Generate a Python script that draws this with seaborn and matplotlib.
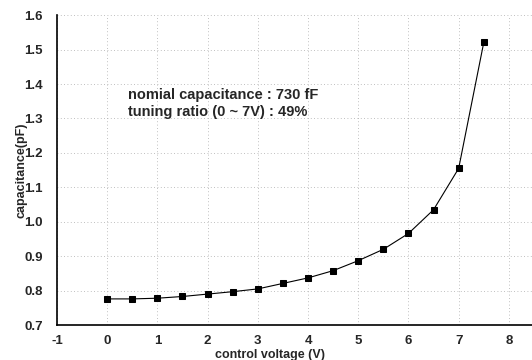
import matplotlib
matplotlib.use("Agg")
import matplotlib.pyplot as plt
from matplotlib.ticker import MultipleLocator
import seaborn as sns
import pandas as pd

voltage = [0, 0.5, 1, 1.5, 2, 2.5, 3, 3.5, 4, 4.5, 5, 5.5, 6, 6.5, 7, 7.5]
capacitance = [0.776, 0.776, 0.778, 0.783, 0.790, 0.797, 0.805, 0.821, 0.837,
               0.858, 0.887, 0.920, 0.966, 1.035, 1.155, 1.521]
y_ticks = [0.7, 0.8, 0.9, 1.0, 1.1, 1.2, 1.3, 1.4, 1.5, 1.6]
y_tick_labels = ["0.7", "0.8", "0.9", "1.0", "1.1", "1.2", "1.3", "1.4", "1.5", "1.6"]

df = pd.DataFrame({"voltage": voltage, "capacitance": capacitance})

sns.set_style("white")
plt.rcParams["font.family"] = ["Liberation Sans", "DejaVu Sans"]
plt.rcParams["font.weight"] = "bold"
plt.rcParams["axes.unicode_minus"] = False

fig = plt.figure(figsize=(5.32, 3.6), dpi=100)
ax = fig.add_axes([0.107, 0.097, 0.893, 0.861])

sns.lineplot(data=df, x="voltage", y="capacitance", ax=ax, color="black",
             linewidth=0.8, marker="s", markersize=4.5, markeredgecolor="black",
             markerfacecolor="black")

ax.set_xlim(-1, 8.46)
ax.set_ylim(0.7, 1.6)
ax.xaxis.set_major_locator(MultipleLocator(1))
ax.xaxis.set_minor_locator(MultipleLocator(0.5))
ax.set_yticks(y_ticks)
ax.set_yticklabels(y_tick_labels)
ax.yaxis.set_minor_locator(MultipleLocator(0.05))

ax.grid(True, which="major", color="#aaaaaa", linestyle=(0, (1, 3)), linewidth=0.6)
ax.tick_params(axis="both", which="major", direction="out", length=3, width=1,
               labelsize=9.5)
ax.tick_params(axis="y", which="major", pad=7)
ax.tick_params(axis="x", which="major", pad=4)
ax.tick_params(axis="both", which="minor", direction="out", length=2, width=0.8)
for lab in ax.get_xticklabels() + ax.get_yticklabels():
    lab.set_fontweight("bold")

for side in ["top", "right"]:
    ax.spines[side].set_visible(False)
for side in ["left", "bottom"]:
    ax.spines[side].set_color("black")
    ax.spines[side].set_linewidth(1.2)

ax.set_xlabel("control voltage (V)", fontsize=9, fontweight="bold")
ax.xaxis.set_label_coords(0.448, -0.078)
ax.set_ylabel("capacitance(pF)", fontsize=9, fontweight="bold")
ax.yaxis.set_label_coords(-0.062, 0.5)

ax.text(0.42, 1.343, "nomial capacitance : 730 fF\ntuning ratio (0 ~ 7V) : 49%",
        fontsize=10.5, fontweight="bold", va="center", ha="left", linespacing=1.3)

fig.savefig("out.png", dpi=100)
